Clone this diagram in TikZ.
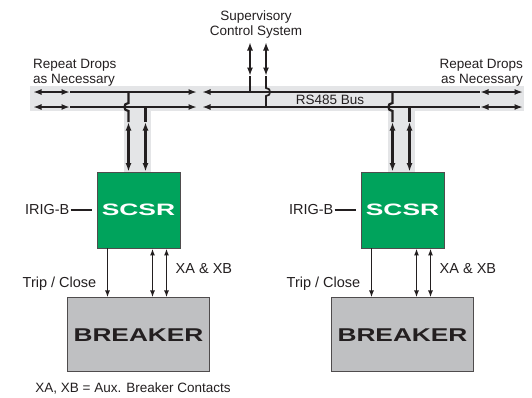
\documentclass[tikz,border=0pt]{standalone}
\usepackage{fontspec}
\setmainfont{Liberation Sans}
\usepackage{graphicx}
\usetikzlibrary{arrows.meta,positioning}
\definecolor{scsrgreen}{HTML}{00A35C}
\definecolor{busgray}{HTML}{E4E5E7}
\definecolor{brkgray}{HTML}{BFC0C2}
\definecolor{ink}{HTML}{231F20}

\begin{document}
\begin{tikzpicture}[x=1pt,y=-1pt,>={Latex[length=8.5pt,width=6pt]},
  bus/.style={line width=2.2pt,ink},
  wire/.style={line width=1.4pt,ink},
  lbl/.style={font=\fontsize{13.5}{15}\selectfont,text=ink,inner sep=1pt},
  biglbl/.style={font=\fontsize{14.5}{16}\selectfont,text=ink,inner sep=1pt},
  scsr/.style={draw=ink!80,line width=0.9pt,fill=scsrgreen,minimum width=83pt,minimum height=76pt,inner sep=0pt,
    text=white,font=\bfseries\fontsize{16.5}{18}\selectfont},
  breaker/.style={draw=ink!80,line width=0.9pt,fill=brkgray,minimum width=142pt,minimum height=74pt,inner sep=0pt,
    text=ink,font=\bfseries\fontsize{18.5}{20}\selectfont}]
  \useasboundingbox (0,0) rectangle (532,397);

  % bus band and drops
  \fill[busgray] (30,86) rectangle (524,111);
  \coordinate (topbus) at (0,92);
  \coordinate (botbus) at (0,107);

  \node[scsr] (scsrL) at (138.5,210) {\scalebox{1.6}[1]{SCSR}};
  \node[scsr] (scsrR) at (402.5,210) {\scalebox{1.6}[1]{SCSR}};
  \node[breaker,below=49pt of scsrL] (brkL) {\scalebox{1.42}[1]{BREAKER}};
  \node[breaker,below=49pt of scsrR] (brkR) {\scalebox{1.42}[1]{BREAKER}};

  \foreach \s in {L,R}{
    \coordinate (dl\s) at ([xshift=-10pt]scsr\s.north);
    \coordinate (dr\s) at ([xshift=7pt]scsr\s.north);
    \fill[busgray] ([xshift=-5pt]dl\s |- botbus) rectangle ([xshift=5pt]dr\s);
  }

  \foreach \yb in {92,107}{
    \draw[bus,<->] (33,\yb) -- (70,\yb);
    \draw[bus,->] (70,\yb) -- (197,\yb);
    \draw[bus,<-] (202,\yb) -- (480,\yb);
    \draw[bus,<->] (480,\yb) -- (523,\yb);
  }

  \foreach \s in {L,R}{
    \draw[bus] (dl\s |- topbus) -- ([yshift=4pt]dl\s |- botbus)
      .. controls +(-5.5pt,0pt) and +(-5.5pt,0pt) .. ([yshift=-4pt]dl\s |- botbus)
      -- ([yshift=-15pt]dl\s |- botbus);
    \draw[bus,<->] ([yshift=-15pt]dl\s |- botbus) -- (dl\s);
    \draw[bus] (dr\s |- botbus) -- ([yshift=-15pt]dr\s |- botbus);
    \draw[bus,<->] ([yshift=-15pt]dr\s |- botbus) -- (dr\s);
    % side signals
    \node[biglbl,anchor=east] (irig\s) at ([xshift=-26pt]scsr\s.west) {IRIG-B};
    \draw[wire] (irig\s.east) -- ([xshift=-5pt]scsr\s.west);
    \coordinate (trip\s) at ([xshift=-31pt]scsr\s.south);
    \draw[wire,->,>={Latex[length=7pt,width=5pt]}] (trip\s) -- (trip\s |- brk\s.north);
    \node[biglbl,anchor=east] (tripl\s) at ([xshift=-10pt,yshift=-35pt]trip\s) {Trip / Close};
    \coordinate (xa\s) at ([xshift=14pt]scsr\s.south);
    \coordinate (xb\s) at ([xshift=28pt]scsr\s.south);
    \draw[wire,<->,line width=1.7pt,>={Latex[length=7pt,width=5pt]}] (xa\s) -- (xa\s |- brk\s.north);
    \draw[wire,<->,line width=1.7pt,>={Latex[length=7pt,width=5pt]}] (xb\s) -- (xb\s |- brk\s.north);
    \node[biglbl,anchor=west] (xal\s) at ([xshift=8pt,yshift=-20pt]xb\s) {XA \& XB};
  }

  % supervisory link
  \coordinate (sup1) at (250,42);
  \coordinate (sup2) at (266,42);
  \draw[bus,<->,line width=2.6pt] (sup1) -- (250,76);
  \draw[bus,line width=2.6pt] (250,76) -- (sup1 |- topbus);
  \draw[bus,<->,line width=1.7pt] (sup2) -- (266,76);
  \draw[bus,line width=1.7pt] (266,76) -- (266,88) .. controls +(5.5,0) and +(5.5,0) .. (266,96) -- (sup2 |- botbus);

  \node[lbl,align=center] (sup) at (256,25) {Supervisory\\Control System};
  \node[lbl,align=left,anchor=west] (repL) at (32,73) {Repeat Drops\\as Necessary};
  \node[lbl,align=right,anchor=east] (repR) at (524,73) {Repeat Drops\\as Necessary};
  \node[lbl] (rs) at (330,100) {RS485 Bus};
  \node[lbl] (note) at (133,388) {XA, XB = Aux. Breaker Contacts};
\end{tikzpicture}
\end{document}
